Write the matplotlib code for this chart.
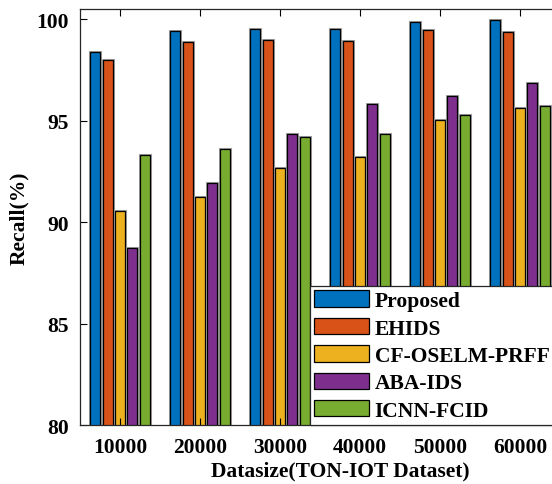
import numpy as np
import matplotlib
matplotlib.use("Agg")
import matplotlib.pyplot as plt
import matplotlib.patheffects as pe

# Recall (%) per dataset size for each method
datasizes = ["10000", "20000", "30000", "40000", "50000", "60000"]
methods = ["Proposed", "EHIDS", "CF-OSELM-PRFF", "ABA-IDS", "ICNN-FCID"]
proposed = [98.41, 99.44, 99.52, 99.54, 99.89, 99.95]
ehids = [97.98, 98.88, 98.97, 98.92, 99.49, 99.38]
cf_oselm_prff = [90.56, 91.25, 92.69, 93.22, 95.04, 95.63]
aba_ids = [88.75, 91.91, 94.37, 95.83, 96.22, 96.85]
icnn_fcid = [93.30, 93.61, 94.20, 94.33, 95.29, 95.75]

series = [proposed, ehids, cf_oselm_prff, aba_ids, icnn_fcid]
colors = ["#0072BD", "#D95319", "#EDB120", "#7E2F8E", "#77AC30"]

plt.rcParams["font.family"] = ["Liberation Serif", "DejaVu Serif"]
plt.rcParams["font.weight"] = "bold"

fig = plt.figure(figsize=(5.52, 4.85), dpi=100)
# axes runs past the right edge of the figure, 80 px per group
ax = fig.add_axes([80 / 552, 59 / 485, 520 / 552, 416 / 485])

x = np.arange(1, len(datasizes) + 1)
step = 0.154
width = 0.125
for i, (vals, col, name) in enumerate(zip(series, colors, methods)):
    bars = ax.bar(x + (i - 2) * step, vals, width, color=col, edgecolor="black",
                  linewidth=0.9, label=name)
    for b in bars:
        b.set_path_effects([pe.Stroke(linewidth=2.2, foreground="#a0a0a0"), pe.Normal()])

ax.set_xlim(0.5, 0.5 + 520 / 80)
ax.set_ylim(80, 100.51)
ax.set_xticks(x)
ax.set_xticklabels(datasizes)
ax.set_yticks([80, 85, 90, 95, 100])
ax.tick_params(direction="in", length=5, width=0.8, labelsize=15.5, top=True, right=False)
ax.tick_params(axis="x", pad=9)
ax.tick_params(axis="y", pad=8)
for s in ax.spines.values():
    s.set_linewidth(0.9)
    s.set_color("#262626")
ax.spines["right"].set_visible(False)

ax.set_xlabel("Datasize(TON-IOT Dataset)", fontsize=15.5, fontweight="bold", labelpad=2)
ax.set_ylabel("Recall(%)", fontsize=15.5, fontweight="bold", labelpad=5)

leg = ax.legend(loc="lower left", bbox_to_anchor=(310 / 552, 59 / 485),
                bbox_transform=fig.transFigure, fontsize=15.5, frameon=True,
                fancybox=False, edgecolor="#262626", framealpha=1,
                handlelength=2.55, handleheight=0.8, labelspacing=0.31,
                handletextpad=0.25, borderpad=0.2, borderaxespad=0)
leg.get_frame().set_linewidth(0.9)
for h in leg.legend_handles:
    h.set_path_effects([])

fig.savefig("out.png", dpi=100)
